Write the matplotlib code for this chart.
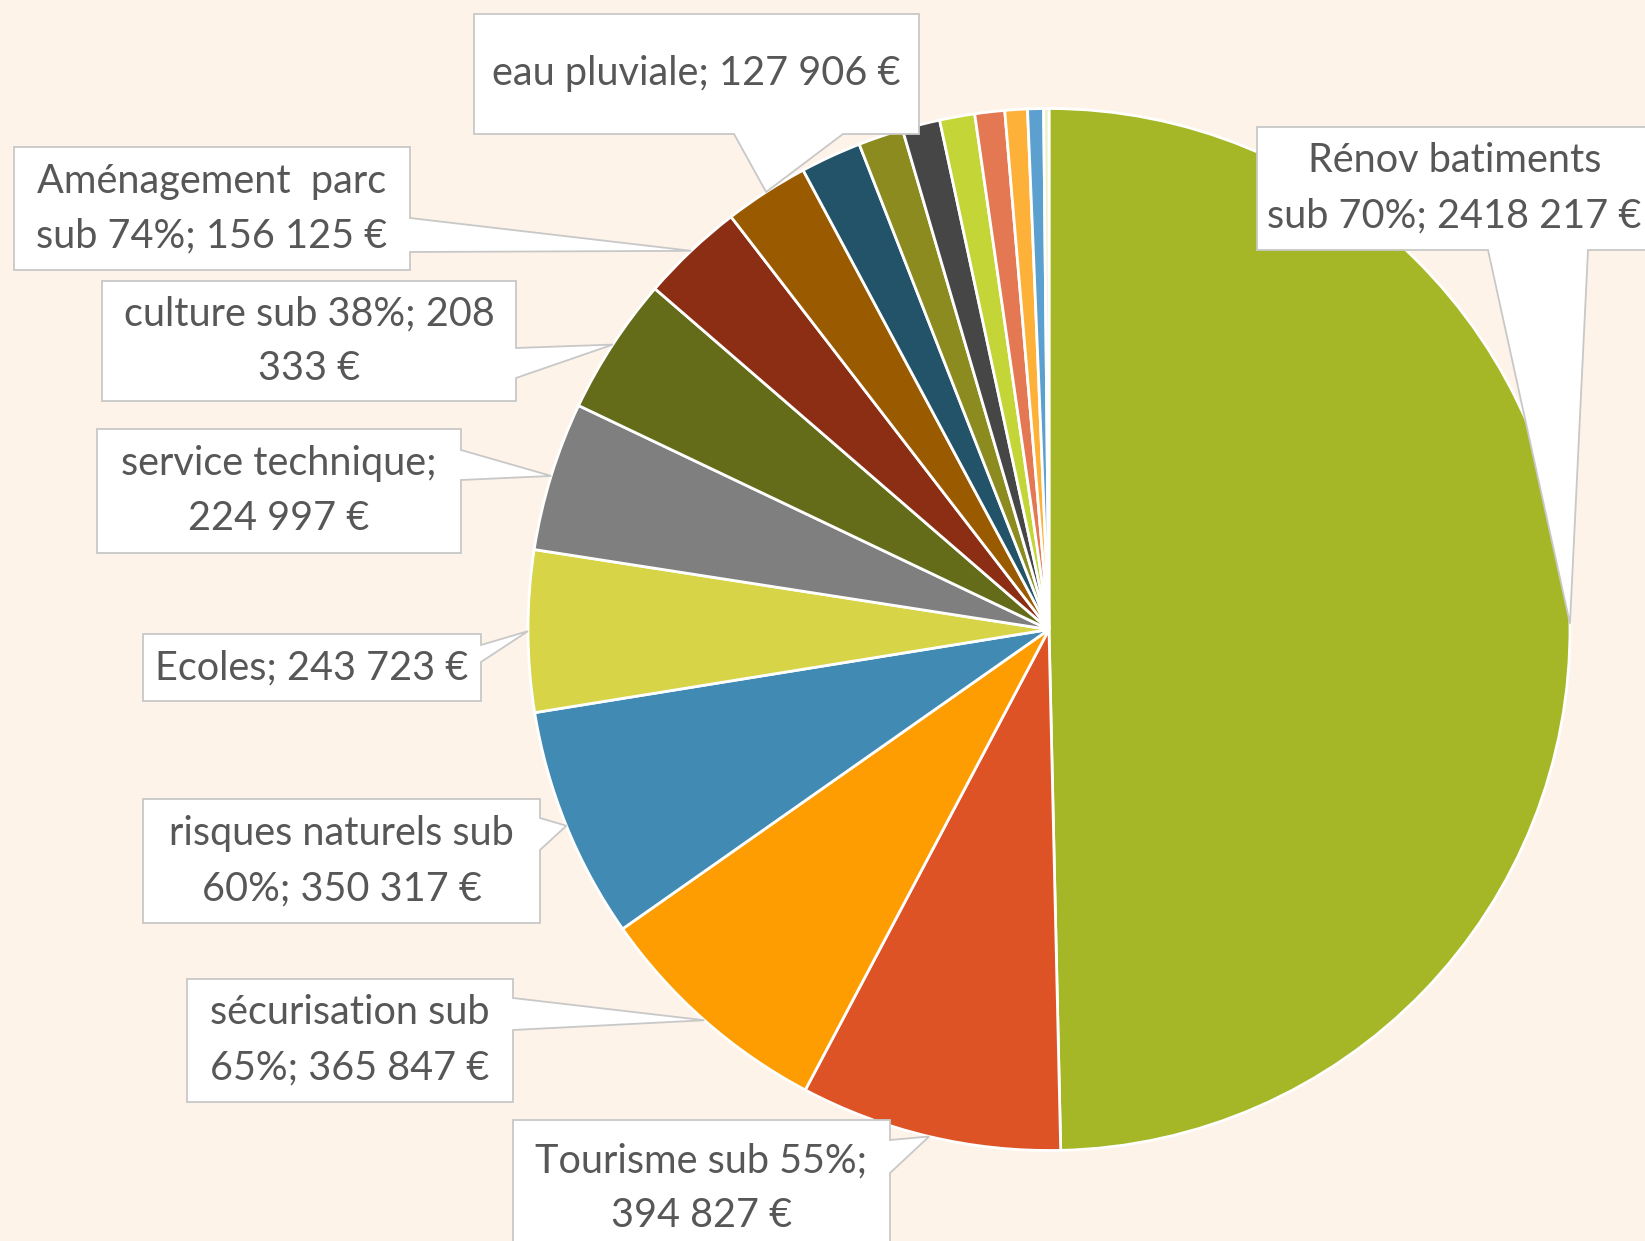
import numpy as np
import matplotlib.pyplot as plt
from matplotlib.patches import Polygon

# slices, clockwise from 12 o'clock
labels = ["Rénov batiments\nsub 70%; 2418 217 €",
          "Tourisme sub 55%;\n394 827 €",
          "sécurisation sub\n65%; 365 847 €",
          "risques naturels sub\n60%; 350 317 €",
          "Ecoles; 243 723 €",
          "service technique;\n224 997 €",
          "culture sub 38%; 208\n333 €",
          "Aménagement  parc\nsub 74%; 156 125 €",
          "eau pluviale; 127 906 €",
          "", "", "", "", "", "", "", ""]
values = [2418217, 394827, 365847, 350317, 243723, 224997, 208333, 156125, 127906,
          92000, 68000, 57000, 53000, 45000, 34000, 24000, 8000]
colors = ["#A5B727", "#DE5326", "#FD9D02", "#418AB3", "#D7D447", "#7F7F7F",
          "#646C1A", "#8B2E14", "#9A5B00", "#235368", "#8C8B1F", "#464646",
          "#C3D537", "#E47853", "#FDB139", "#5CA0CF", "#EEF0C6"]

# callout layout in image pixels: box (x0, y0, x1, y1), side of pointer, base span
callouts = {
    0: ((1257, 127, 1652, 250), "bottom", (1488, 1588)),
    1: ((513, 1120, 890, 1265), "right", (1140, 1173)),
    2: ((187, 979, 513, 1102), "right", (998, 1030)),
    3: ((143, 799, 540, 923), "right", (818, 850)),
    4: ((143, 634, 481, 701), "right", (645, 662)),
    5: ((97, 429, 461, 553), "right", (450, 480)),
    6: ((102, 281, 516, 401), "right", (348, 378)),
    7: ((14, 147, 410, 270), "right", (218, 252)),
    8: ((474, 14, 919, 134), "bottom", (734, 843)),
}

bg = "#FEF3E8"
W, H = 1645, 1241
R = 521.0
cx, cy = 1049.0, 629.5


def px(x, y):
    return ((x - cx) / R, (cy - y) / R)


fig = plt.figure(figsize=(W / 100, H / 100), dpi=100, facecolor=bg)
ax = fig.add_axes([0, 0, 1, 1])
ax.set_facecolor(bg)

wedges, _ = ax.pie(values, colors=colors, startangle=90, counterclock=False,
                   radius=1, wedgeprops=dict(edgecolor="white", linewidth=2))

ax.set_xlim(px(0, 0)[0], px(W, 0)[0])
ax.set_ylim(px(0, H)[1], px(0, 0)[1])
ax.set_aspect("equal")
ax.axis("off")

for i, (box, side, base) in callouts.items():
    w = wedges[i]
    mid = np.deg2rad((w.theta1 + w.theta2) / 2)
    tip = (np.cos(mid), np.sin(mid))
    x0, y0, x1, y1 = box
    b0, b1 = base
    if side == "right":
        pts = [px(x0, y0), px(x1, y0), px(x1, b0), tip, px(x1, b1), px(x1, y1), px(x0, y1)]
    else:
        pts = [px(x0, y0), px(x1, y0), px(x1, y1), px(b1, y1), tip, px(b0, y1), px(x0, y1)]
    ax.add_patch(Polygon(pts, closed=True, fc="white", ec="#C8C8C8", lw=1.3, zorder=5))
    ax.text(*px((x0 + x1) / 2, (y0 + min(y1, H + 15)) / 2), labels[i],
            ha="center", va="center", fontsize=28.5, family="Lato",
            color="#575757", linespacing=1.6, zorder=6)

fig.savefig("out.png", dpi=100, facecolor=bg)
